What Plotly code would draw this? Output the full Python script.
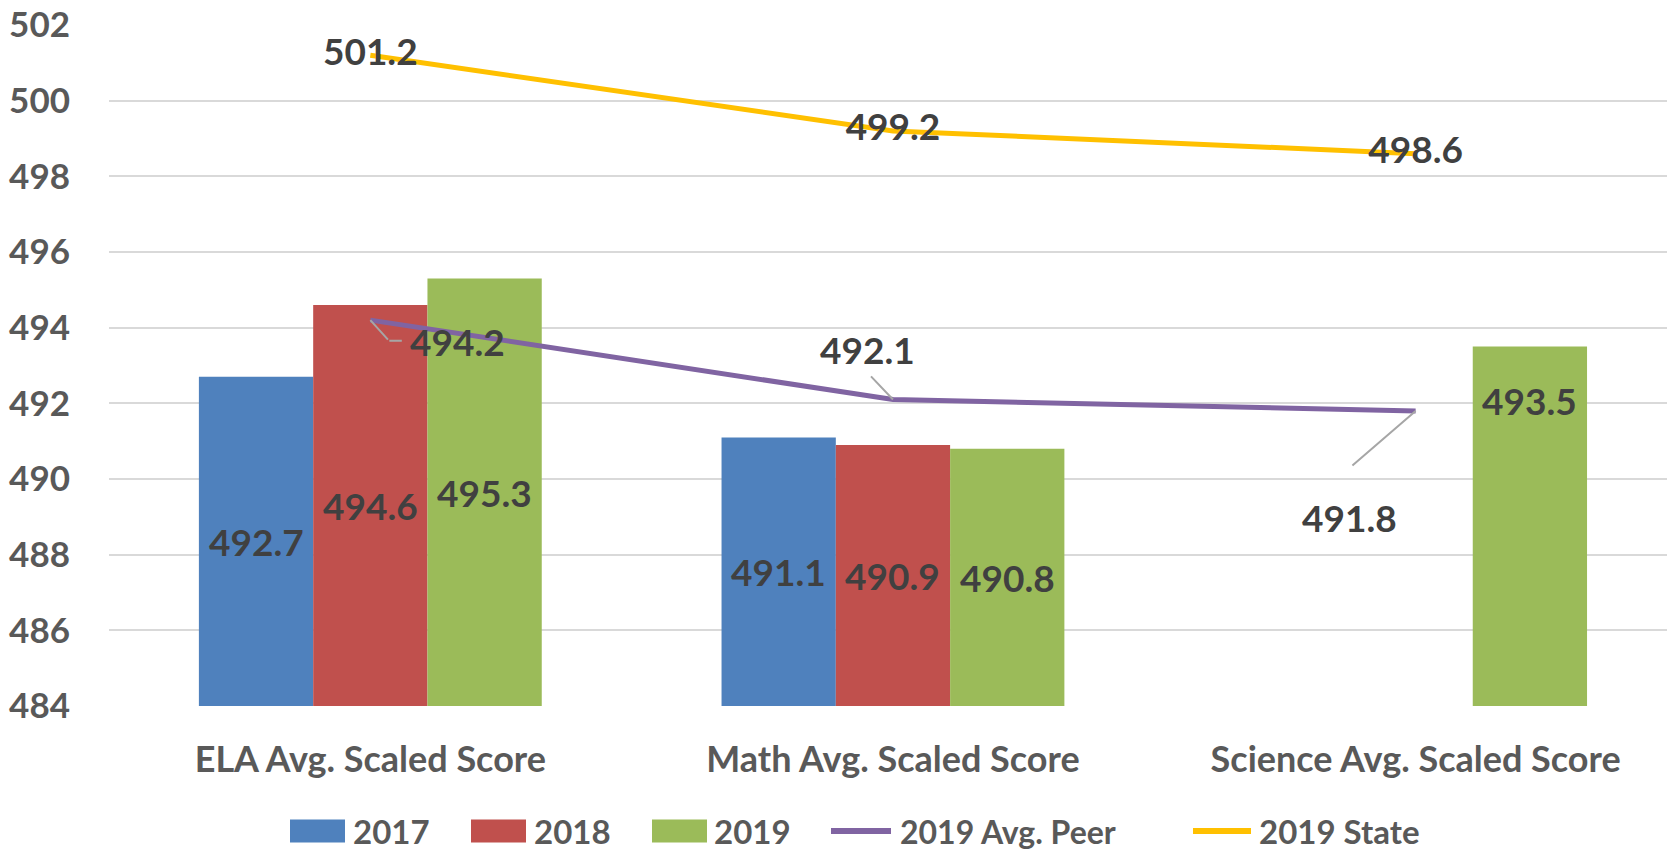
import plotly.graph_objects as go

categories = ["ELA Avg. Scaled Score", "Math Avg. Scaled Score", "Science Avg. Scaled Score"]
y2017 = [492.7, 491.1, None]
y2018 = [494.6, 490.9, None]
y2019 = [495.3, 490.8, 493.5]
peer2019 = [494.2, 492.1, 491.8]
state2019 = [501.2, 499.2, 498.6]
y_ticks = [484, 486, 488, 490, 492, 494, 496, 498, 500, 502]
series_names = ["2017", "2018", "2019", "2019 Avg. Peer", "2019 State"]

FONT = "Lato"
LABEL_COLOR = "#404040"
AXIS_COLOR = "#595959"
COLORS = ["#4F81BD", "#C0504D", "#9BBB59", "#8064A2", "#FFC000"]
BAR_PX = 114.3

W, H = 1667, 851
ML, MR, MT, MB = 109, 0, 25, 145
PW, PH = W - ML - MR, H - MT - MB

fig = go.Figure()
bar_vals = [y2017, y2018, y2019]
for i, vals in enumerate(bar_vals):
    fig.add_trace(go.Bar(x=categories, y=vals, name=series_names[i],
                         marker=dict(color=COLORS[i], line=dict(width=0)), showlegend=False))

fig.add_trace(go.Scatter(x=categories, y=peer2019, name=series_names[3], mode="lines",
                         line=dict(color=COLORS[3], width=5), showlegend=False))
fig.add_trace(go.Scatter(x=categories, y=state2019, name=series_names[4], mode="lines+text",
                         text=[f"{v:.1f}" for v in state2019], textposition="middle center",
                         textfont=dict(family=FONT, size=37, color=LABEL_COLOR, weight="bold"),
                         line=dict(color=COLORS[4], width=5), showlegend=False))

annotations = []
shapes = []
label_font = dict(family=FONT, size=37, color=LABEL_COLOR, weight="bold")
# bar labels, centered vertically inside the bars
for idx, vals in enumerate(bar_vals):
    for ci, v in enumerate(vals):
        if v is None:
            continue
        shift = (idx - 1) * BAR_PX
        if categories[ci].startswith("Science"):
            annotations.append(dict(x=categories[ci], y=v, xref="x", yref="y", text=f"{v:.1f}",
                                    showarrow=False, xshift=shift, yshift=-54, font=label_font,
                                    xanchor="center", yanchor="middle"))
        else:
            annotations.append(dict(x=categories[ci], y=(y_ticks[0] + v) / 2, xref="x", yref="y",
                                    text=f"{v:.1f}", showarrow=False, xshift=shift, font=label_font,
                                    xanchor="center", yanchor="middle"))

# peer labels with leader lines
peer_text_offsets = [(87, -21.7), (-25, 50), (-65.7, -106.5)]
leader_lines = [[(19, 21, 0, 0), (14, 0, 19, -20.7)], [(-23.4, -24.7, 0, 0)], [(-64.7, 56, 0, 0)]]
for ci, v in enumerate(peer2019):
    xs, ys = peer_text_offsets[ci]
    annotations.append(dict(x=categories[ci], y=v, xref="x", yref="y", text=f"{v:.1f}",
                            showarrow=False, xshift=xs, yshift=ys, font=label_font,
                            xanchor="center", yanchor="middle"))
    for ax, ay, xsh, ysh in leader_lines[ci]:
        annotations.append(dict(x=categories[ci], y=v, xref="x", yref="y", text="",
                                showarrow=True, arrowhead=0, arrowwidth=2, arrowcolor="#A6A6A6",
                                ax=ax, ay=ay, axref="pixel", ayref="pixel", standoff=0,
                                startstandoff=0, xshift=xsh, yshift=ysh))

# legend (drawn below the plot area)
def px_x(p):
    return (p - ML) / PW

def px_y(p):
    return (H - MB - p) / PH

legend_cy = 831
legend_items = [(290, 345, 351), (471, 526, 532), (652, 707, 712), (831, 891, 898), (1193, 1251, 1257)]
for i, (x0, x1, tx) in enumerate(legend_items):
    if i < 3:
        shapes.append(dict(type="rect", xref="paper", yref="paper",
                           x0=px_x(x0), x1=px_x(x1), y0=px_y(legend_cy + 11.5), y1=px_y(legend_cy - 11.5),
                           fillcolor=COLORS[i], line=dict(width=0)))
    else:
        shapes.append(dict(type="line", xref="paper", yref="paper",
                           x0=px_x(x0), x1=px_x(x1), y0=px_y(legend_cy), y1=px_y(legend_cy),
                           line=dict(color=COLORS[i], width=6)))
    annotations.append(dict(x=px_x(tx), y=px_y(legend_cy), xref="paper", yref="paper",
                            text=series_names[i], showarrow=False, xanchor="left", yanchor="middle",
                            font=dict(family=FONT, size=33 if i != 3 else 32, color=AXIS_COLOR, weight="bold")))

fig.update_layout(
    width=W, height=H,
    margin=dict(l=ML, r=MR, t=MT, b=MB, pad=0),
    paper_bgcolor="white", plot_bgcolor="white",
    barmode="group", bargap=0.344, bargroupgap=0,
    font=dict(family=FONT, color=AXIS_COLOR),
    annotations=annotations,
    shapes=shapes,
    showlegend=False,
)
fig.update_xaxes(type="category", range=[-0.5, 2.481], showgrid=False, showline=False,
                 ticks="", tickfont=dict(family=FONT, size=36, color=AXIS_COLOR, weight="bold"),
                 ticklabelstandoff=29, zeroline=False)
fig.update_yaxes(range=[484, 502], tickvals=y_ticks, ticktext=[str(t) for t in y_ticks],
                 showgrid=True, gridcolor="#D9D9D9", gridwidth=2, zeroline=False, showline=False,
                 ticks="", tickfont=dict(family=FONT, size=35, color=AXIS_COLOR, weight="bold"),
                 ticklabelstandoff=38)

fig.write_html("out.html", config={"displayModeBar": False},
               post_script="document.body.style.margin='0';document.documentElement.style.overflow='hidden';document.body.style.overflow='hidden';")
